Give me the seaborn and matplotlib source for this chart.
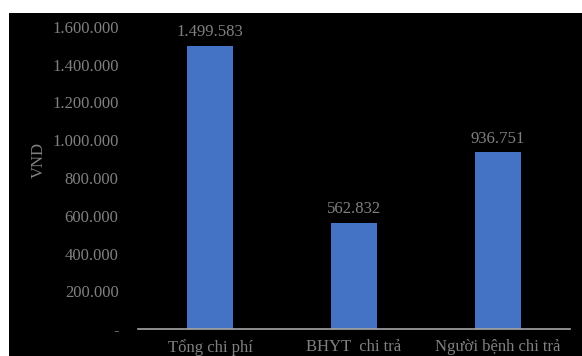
import matplotlib
matplotlib.use('Agg')
import matplotlib.pyplot as plt
import seaborn as sns
import pandas as pd
from matplotlib.patches import Rectangle
from matplotlib.ticker import FuncFormatter

# ==================== 数据 ====================
categories = ['Tổng chi phí', 'BHYT  chi trả', 'Người bệnh chi trả']
values = [1499583, 562832, 936751]
y_ticks = [0, 200000, 400000, 600000, 800000, 1000000, 1200000, 1400000, 1600000]

BAR_COLOR = '#4472C4'
TEXT_COLOR = '#808080'
FONT_SIZE = 12

sns.set_style('white')
plt.rcParams['font.family'] = ['Liberation Serif', 'DejaVu Serif']


def fmt_vnd(v, pos=None):
    if v == 0:
        return '-'
    return f'{int(round(v)):,}'.replace(',', '.')


df = pd.DataFrame({'cat': categories, 'val': values})

fig = plt.figure(figsize=(5.82, 3.56), dpi=100, facecolor='white')
# 黑色背景区域（放在坐标轴之下）
fig.patches.append(Rectangle((9 / 582, 0), 1 - 9 / 582, (356 - 13) / 356,
                             transform=fig.transFigure, facecolor='black',
                             edgecolor='none', zorder=-10))
ax = fig.add_axes([138 / 582, 27 / 356, 432 / 582, 302 / 356])
ax.set_facecolor('black')

sns.barplot(data=df, x='cat', y='val', color=BAR_COLOR, width=0.32,
            saturation=1, linewidth=0, ax=ax)

for i, v in enumerate(values):
    ax.annotate(fmt_vnd(v), (i, v), xytext=(0, 4), textcoords='offset points',
                ha='center', va='bottom', color=TEXT_COLOR, fontsize=FONT_SIZE)

ax.set_xlim(-0.5, 2.5)
ax.set_ylim(0, 1600000)
ax.set_yticks(y_ticks)
ax.yaxis.set_major_formatter(FuncFormatter(fmt_vnd))
ax.tick_params(axis='y', length=0, pad=14, labelcolor=TEXT_COLOR, labelsize=FONT_SIZE)
ax.tick_params(axis='x', length=0, pad=7, labelcolor=TEXT_COLOR, labelsize=FONT_SIZE)
ax.set_xlabel('')
ax.set_ylabel('VND', color=TEXT_COLOR, fontsize=FONT_SIZE)
ax.yaxis.set_label_coords(-0.21, 0.56)

for side in ['top', 'right', 'left']:
    ax.spines[side].set_visible(False)
ax.spines['bottom'].set_color('#a6a6a6')
ax.spines['bottom'].set_linewidth(1.2)

fig.savefig('out.png', dpi=100, facecolor='white')
